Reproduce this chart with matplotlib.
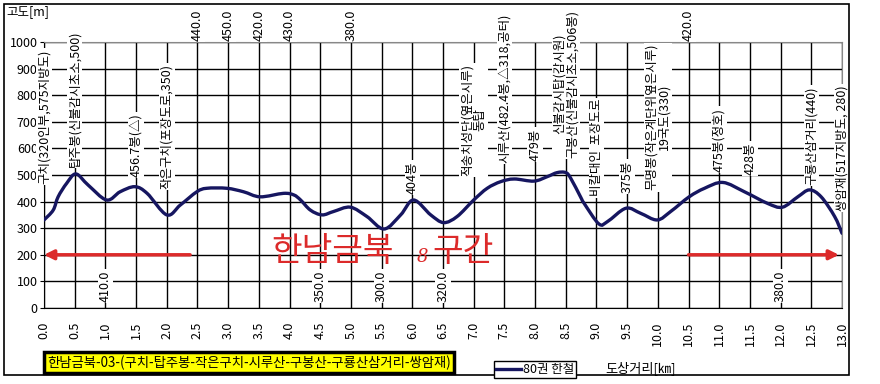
import numpy as np
import matplotlib
matplotlib.use("Agg")
import matplotlib.pyplot as plt
from matplotlib.patches import Rectangle, PathPatch
from matplotlib.path import Path
from matplotlib.lines import Line2D

plt.rcParams['font.family'] = ['Noto Sans CJK KR', 'DejaVu Sans']

# elevation profile (km, m)
dist = [0.0, 0.15, 0.23, 0.37, 0.52, 0.72, 1.02, 1.24, 1.48, 1.68,
        2.0, 2.22, 2.49, 2.65, 2.98, 3.25, 3.52, 3.9, 4.07, 4.18,
        4.34, 4.53, 4.72, 4.99, 5.26, 5.54, 5.81, 6.02, 6.3, 6.51,
        6.73, 7.0, 7.22, 7.44, 7.66, 7.98, 8.2, 8.36, 8.5, 8.58,
        8.74, 8.8, 9.04, 9.18, 9.48, 9.72, 9.99, 10.21, 10.51, 10.76,
        11.06, 11.41, 11.79, 12.03, 12.28, 12.47, 12.66, 12.88, 13.0]
elev = [331, 368, 418, 469, 504, 462, 406, 437, 456, 431,
        350, 387, 437, 450, 450, 437, 418, 431, 425, 406,
        368, 350, 363, 379, 344, 297, 350, 406, 350, 321,
        344, 406, 450, 475, 485, 477, 494, 509, 509, 488,
        418, 393, 316, 325, 375, 356, 331, 363, 418, 450,
        472, 437, 393, 379, 418, 444, 418, 344, 281]
series_name = "80권 한철"

top_km = [2.5, 3.0, 3.5, 4.0, 5.0, 10.5]
top_val = [440, 450, 420, 430, 380, 420]
low_km = [1.0, 4.5, 5.5, 6.5, 12.0]
low_val = [410, 350, 300, 320, 380]

place_km = [0.0, 0.5, 1.5, 2.0, 6.0, 7.0, 7.5, 8.0, 8.5,
            9.0, 9.5, 10.0, 11.0, 11.5, 12.5, 13.0]
place_txt = ["구치(320인부,575지방도)",
             "탑주봉(신불감시초소,500)",
             "456.7봉(△)",
             "작은구치(포장도로,350)",
             "404봉",
             "적송치성단(옆은시루)\n동탑",
             "시루산(482.4봉,△318,공터)",
             "479봉",
             "신불감시탑(감시원)\n구봉산(신불감시초소,506봉)",
             "비칼대인  포장도로",
             "375봉",
             "무명봉(작은계단위옆은시루)\n19국도(330)",
             "475봉(정호)",
             "428봉",
             "구룡산삼거리(440)",
             "쌍암재(517지방도, 280)"]
# label centres (m)
place_y = [720, 788, 613, 682, 489, 707, 825, 615, 842,
           603, 494, 718, 633, 562, 647, 600]

title = "한남금북-03-(구치-탑주봉-작은구치-시루산-구봉산-구룡산삼거리-쌍암재)"

W, H = 880, 384
red = '#dc2a2a'
navy = '#161660'

fig = plt.figure(figsize=(W / 100, H / 100), dpi=100)
ax = fig.add_axes([44 / W, 1 - 308 / H, (842 - 44) / W, (308 - 42) / H])

# smoothed line like the spreadsheet's (Catmull-Rom through the points)
pts = np.column_stack([dist, elev]).astype(float)
ext = np.vstack([pts[0], pts, pts[-1]])
verts = [pts[0]]
codes = [Path.MOVETO]
for i in range(len(pts) - 1):
    p0, p1, p2, p3 = ext[i], ext[i + 1], ext[i + 2], ext[i + 3]
    verts += [p1 + (p2 - p0) / 6, p2 - (p3 - p1) / 6, p2]
    codes += [Path.CURVE4] * 3
ax.add_patch(PathPatch(Path(verts, codes), facecolor='none', edgecolor=navy,
                       lw=2.4, zorder=5, capstyle='round', joinstyle='round'))

ax.set_xlim(0, 13)
ax.set_ylim(0, 1000)
xt = np.arange(0, 13.01, 0.5)
ax.set_xticks(xt)
ax.set_xticklabels([f"{v:.1f}" for v in xt], rotation=90)
ax.set_yticks(range(0, 1001, 100))
ax.tick_params(axis='x', length=0, pad=10, labelsize=9)
ax.tick_params(axis='y', length=3, pad=1.5, labelsize=9)
ax.grid(True, color='black', lw=1)
for s in ['top', 'right']:
    ax.spines[s].set_color('#888888')
for s in ['left', 'bottom']:
    ax.spines[s].set_color('black')

box = dict(boxstyle='square,pad=0.1', facecolor='white', edgecolor='none')

for x, v in zip(top_km, top_val):
    ax.text(x, 1064, f"{v:.1f}", rotation=90, fontsize=9, ha='center',
            va='center', bbox=box, clip_on=False, zorder=4)
for x, v in zip(low_km, low_val):
    ax.text(x, 83, f"{v:.1f}", rotation=90, fontsize=9, ha='center',
            va='center', bbox=box, zorder=4)
for x, t, y in zip(place_km, place_txt, place_y):
    ax.text(x, y, t, rotation=90, fontsize=9, ha='center', va='center',
            multialignment='center', linespacing=1.0, bbox=box,
            clip_on=False, zorder=4)

# red section arrows
arr = dict(arrowstyle='-|>', color=red, lw=2.5, mutation_scale=14,
           shrinkA=0, shrinkB=0)
ax.annotate('', xy=(0.0, 200), xytext=(2.38, 200), arrowprops=arr,
            annotation_clip=False, zorder=6)
ax.annotate('', xy=(12.95, 200), xytext=(10.5, 200), arrowprops=arr,
            annotation_clip=False, zorder=6)

# big red section title
fig.text(271 / W, 1 - 252 / H, "한남금북", fontsize=24, color=red,
         weight='light', ha='left', va='center', zorder=6)
fig.text(422 / W, 1 - 257 / H, "8", fontsize=13, color=red, style='italic',
         family='DejaVu Serif', ha='center', va='center', zorder=6)
fig.text(432 / W, 1 - 252 / H, "구간", fontsize=24, color=red,
         weight='light', ha='left', va='center', zorder=6)

fig.text(6 / W, 1 - 12 / H, "고도[m]", fontsize=9, ha='left', va='center')
fig.text(605 / W, 1 - 368 / H, "도상거리[㎞]", fontsize=9.5, ha='left',
         va='center')
fig.text(47 / W, 1 - 362.5 / H, title, fontsize=9.6, ha='left', va='center',
         bbox=dict(boxstyle='square,pad=0.22', facecolor='#ffff00',
                   edgecolor='black', lw=2.5))

handle = Line2D([], [], color=navy, lw=2.4)
leg = fig.legend(handles=[handle], labels=[series_name], loc='center',
                 bbox_to_anchor=(535 / W, 1 - 369.5 / H), fontsize=9,
                 frameon=True, fancybox=False, edgecolor='black',
                 framealpha=1, handlelength=2.0, handletextpad=0.2,
                 borderpad=0.15, borderaxespad=0)
leg.get_frame().set_linewidth(1)

fig.patches.append(Rectangle((4 / W, 1 - 375 / H), 845 / W, 371 / H,
                             transform=fig.transFigure, fill=False,
                             edgecolor='black', lw=1.2))

fig.savefig("out.png", dpi=100)
